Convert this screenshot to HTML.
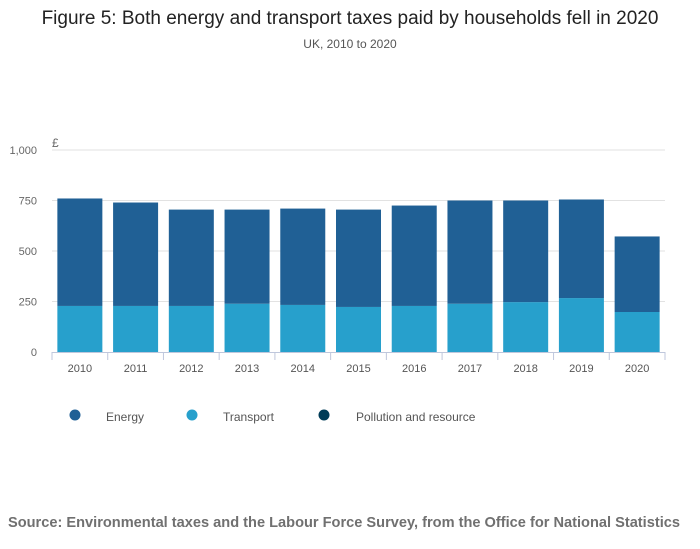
<!DOCTYPE html>
<html><head><meta charset="utf-8"><style>
body{margin:0;background:#fff;font-family:"Liberation Sans",sans-serif;}
#wrap{position:relative;width:700px;height:549px;overflow:hidden}
</style></head><body>
<div id="wrap">
<svg id="svg" width="700" height="549" xmlns="http://www.w3.org/2000/svg">
<text x="350" y="24" text-anchor="middle" font-size="19" fill="#222">Figure 5: Both energy and transport taxes paid by households fell in 2020</text>
<text x="350" y="48" text-anchor="middle" font-size="12" fill="#555">UK, 2010 to 2020</text>
<text x="52" y="147" font-size="12" fill="#666">£</text>
<g id="grid"></g><g id="bars"></g><g id="xaxis"></g>
<g>
<circle cx="75" cy="415" r="5.5" fill="#206095"/>
<text x="106" y="421" font-size="12" fill="#555">Energy</text>
<circle cx="192" cy="415" r="5.5" fill="#27a0cc"/>
<text x="223" y="421" font-size="12" fill="#555">Transport</text>
<circle cx="324" cy="415" r="5.5" fill="#003c57"/>
<text x="356" y="421" font-size="12" fill="#555">Pollution and resource</text>
</g>
<text x="344" y="527" text-anchor="middle" font-size="14.6" font-weight="bold" fill="#707070">Source: Environmental taxes and the Labour Force Survey, from the Office for National Statistics</text>
</svg></div>
<script>
const categories=["2010","2011","2012","2013","2014","2015","2016","2017","2018","2019","2020"];
const transport=[228,228,228,239,233,223,228,239,247,267,198];
const energy=[532,512,477,466,477,482,497,511,503,488,374];
const yTicks=[0,250,500,750,1000];
const yTickLabels=["0","250","500","750","1,000"];
const NS="http://www.w3.org/2000/svg";
const x0=52,x1=665,yBase=352,yTop=150;
function y(v){return yBase-(v/1000)*(yBase-yTop);}
const band=(x1-x0)/categories.length,bw=45;
function xc(i){return x0+band*(i+0.5);}
function mk(tag,a,p){const e=document.createElementNS(NS,tag);for(const k in a)e.setAttribute(k,a[k]);p.appendChild(e);return e;}
const grid=document.getElementById('grid'),bars=document.getElementById('bars'),xa=document.getElementById('xaxis');
yTicks.forEach((t,i)=>{
 if(t>0){const l=mk('line',{x1:x0,x2:x1,y1:y(t),y2:y(t),stroke:'#e2e2e2'},grid);
 
 }
 const tx=mk('text',{x:37,y:y(t)+4,'text-anchor':'end','font-size':11,fill:'#666'},grid);tx.textContent=yTickLabels[i];
 
 
});
categories.forEach((c,i)=>{
 const r1=mk('rect',{x:xc(i)-bw/2,y:y(transport[i]),width:bw,height:y(0)-y(transport[i]),fill:'#27a0cc'},bars);
 
 
 const tot=transport[i]+energy[i];
 const r2=mk('rect',{x:xc(i)-bw/2,y:y(tot),width:bw,height:y(transport[i])-y(tot),fill:'#206095'},bars);
 
 
 const tx=mk('text',{x:xc(i),y:372,'text-anchor':'middle','font-size':11,fill:'#555'},xa);tx.textContent=c;
 
 
});
const ax=mk('line',{x1:x0,x2:x1,y1:yBase+0.5,y2:yBase+0.5,stroke:'#bfc7dc'},xa);


for(let i=0;i<=categories.length;i++){const t=mk('line',{x1:x0+band*i,x2:x0+band*i,y1:yBase,y2:yBase+8,stroke:'#bfc7dc'},xa);
 
 }
</script>
</body></html>
